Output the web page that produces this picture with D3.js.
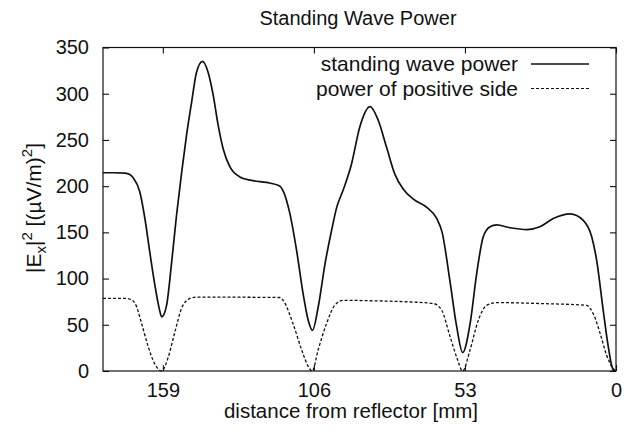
<!DOCTYPE html>
<html>
<head>
<meta charset="utf-8">
<script src="https://cdn.jsdelivr.net/npm/d3@7"></script>
<style>
  body { margin: 0; background: #fff; }
  svg { display: block; font-family: 'Liberation Sans', Arial, sans-serif; }
</style>
</head>
<body>
<div id="chart"></div>
<script>
// distance from reflector [mm] and |Ex|^2 for each curve
const waveDist = [180, 176, 172.3, 170.6, 169.4, 167.1, 165.3, 163.6, 161.8, 160.3, 159.4, 157.7, 155.9, 154.2,
  152.4, 150.7, 148.9, 147.2, 145.1, 143.1, 141.3, 139.6, 137.8, 135.5, 132, 127.4, 122.6, 117.9, 116.8, 114.4,
  112.1, 109.8, 108, 106.5, 104.5, 102.1, 99.8, 98, 95.7, 92.8, 89.9, 86.3, 83.4, 80.5, 77.6, 74.7, 71.1, 66.4,
  62.9, 61, 58.3, 55.9, 53.8, 51.2, 48.9, 46.6, 44.2, 41.9, 37.2, 31.3, 26.7, 22, 16.1, 11.5, 8.5, 6.8, 4.5,
  2.7, 1.2, 0]
const wavePower = [214.5, 214.5, 214, 212.5, 209, 194, 165, 129, 93, 68, 58.5, 71, 118, 168.5,
  215, 255, 291, 323, 335, 323, 298, 266, 240, 221, 210, 206, 204, 200, 195, 170,
  131, 84, 55, 44, 69, 116, 152, 177, 196, 224, 264, 286, 271, 242, 213, 197, 186, 177,
  165, 150, 98, 48, 20, 51, 105, 145, 156, 158, 155, 153, 156, 165, 170, 163, 145, 120, 66,
  26, 3, 0]

const posDist = [180, 172, 170, 168.4, 166.6, 164.3, 161.9, 159.4, 157.2, 154.8, 152.4, 149.5, 147.2, 118,
  116.8, 113.3, 110.3, 108, 106.6, 104.5, 101.6, 98.7, 95.7, 86.3, 74.6, 64.1, 61.2, 58.3, 55.9, 53.8,
  51.2, 48.3, 45.4, 41.9, 26.7, 10.3, 8, 5.6, 3.3, 1.5, 0.8, 0]
const posPower = [78.5, 78.5, 77, 71, 53, 28, 8, 0, 14, 42, 68, 78.5, 80, 79.5,
  76.5, 51, 23, 5, 0, 23, 51, 71, 76.5, 76, 75, 73, 66, 38, 15, 0,
  23, 55, 71, 74, 73, 71, 62, 41, 17, 4.5, 0, 0]

const xTicks = [159, 106, 53, 0]
const yTicks = [0, 50, 100, 150, 200, 250, 300, 350]
const seriesNames = ['standing wave power', 'power of positive side']

const W = 633
const H = 439
const margin = { top: 47.5, right: 17, bottom: 68, left: 103 }
const ink = '#111'

const svg = d3.select('#chart').append('svg')
  .attr('width', W)
  .attr('height', H)

const x = d3.scaleLinear().domain([180, 0]).range([margin.left, W - margin.right])
const y = d3.scaleLinear().domain([0, 350]).range([H - margin.bottom, margin.top])

// frame
svg.append('rect')
  .attr('x', x.range()[0])
  .attr('y', y.range()[1])
  .attr('width', x.range()[1] - x.range()[0])
  .attr('height', y.range()[0] - y.range()[1])
  .attr('fill', 'none')
  .attr('stroke', ink)
  .attr('stroke-width', 1.2)

function styleAxis(g, labels) {
  g.select('.domain').remove()
  g.selectAll('line').attr('stroke', ink).attr('stroke-width', 1.1)
  g.selectAll('text')
    .attr('fill', ink)
    .attr('font-size', 20)
    .style('display', labels ? null : 'none')
}

// inward ticks on all four sides, labels only bottom and left
svg.append('g')
  .attr('transform', 'translate(0,' + y(0) + ')')
  .call(d3.axisBottom(x).tickValues(xTicks).tickSizeInner(-6).tickSizeOuter(0).tickPadding(12))
  .call(g => styleAxis(g, true))
svg.append('g')
  .attr('transform', 'translate(0,' + y(350) + ')')
  .call(d3.axisTop(x).tickValues(xTicks).tickSizeInner(-6).tickSizeOuter(0))
  .call(g => styleAxis(g, false))
svg.append('g')
  .attr('transform', 'translate(' + x(180) + ',0)')
  .call(d3.axisLeft(y).tickValues(yTicks).tickSizeInner(-6).tickSizeOuter(0).tickPadding(14))
  .call(g => styleAxis(g, true))
svg.append('g')
  .attr('transform', 'translate(' + x(0) + ',0)')
  .call(d3.axisRight(y).tickValues(yTicks).tickSizeInner(-6).tickSizeOuter(0))
  .call(g => styleAxis(g, false))

// curves
const line = d3.line()
  .x(d => x(d[0]))
  .y(d => y(d[1]))
  .curve(d3.curveMonotoneX)

svg.append('path')
  .datum(d3.zip(posDist, posPower))
  .attr('d', line)
  .attr('fill', 'none')
  .attr('stroke', ink)
  .attr('stroke-width', 1.3)
  .attr('stroke-dasharray', '3,2')

svg.append('path')
  .datum(d3.zip(waveDist, wavePower))
  .attr('d', line)
  .attr('fill', 'none')
  .attr('stroke', ink)
  .attr('stroke-width', 1.7)

// legend
const legend = svg.append('g')
  .attr('font-size', 21)
  .attr('fill', ink)
  .selectAll('g')
  .data(seriesNames)
  .join('g')
  .attr('transform', (d, i) => 'translate(0,' + (71 + i * 24.5) + ')')

legend.append('text')
  .attr('x', 518)
  .attr('text-anchor', 'end')
  .text(d => d)

legend.append('line')
  .attr('x1', 531)
  .attr('x2', 589)
  .attr('y1', -7)
  .attr('y2', -7)
  .attr('stroke', ink)
  .attr('stroke-width', (d, i) => i ? 1.1 : 1.4)
  .attr('stroke-dasharray', (d, i) => i ? '3,2' : null)

// title and axis labels
svg.append('text')
  .attr('x', 358)
  .attr('y', 25)
  .attr('text-anchor', 'middle')
  .attr('font-size', 20)
  .attr('fill', ink)
  .text('Standing Wave Power')

svg.append('text')
  .attr('x', 351)
  .attr('y', 418)
  .attr('text-anchor', 'middle')
  .attr('font-size', 20.5)
  .attr('fill', ink)
  .text('distance from reflector [mm]')

const yLabel = svg.append('text')
  .attr('transform', 'translate(41,208) rotate(-90)')
  .attr('text-anchor', 'middle')
  .attr('font-size', 21)
  .attr('fill', ink)
yLabel.append('tspan').text('|E')
yLabel.append('tspan').attr('font-size', 15).attr('dy', 5).text('x')
yLabel.append('tspan').attr('dy', -5).text('|')
yLabel.append('tspan').attr('font-size', 15).attr('dy', -9).text('2')
yLabel.append('tspan').attr('dy', 9).text(' [(µV/m)')
yLabel.append('tspan').attr('font-size', 15).attr('dy', -9).text('2')
yLabel.append('tspan').attr('dy', 9).text(']')
</script>
</body>
</html>
